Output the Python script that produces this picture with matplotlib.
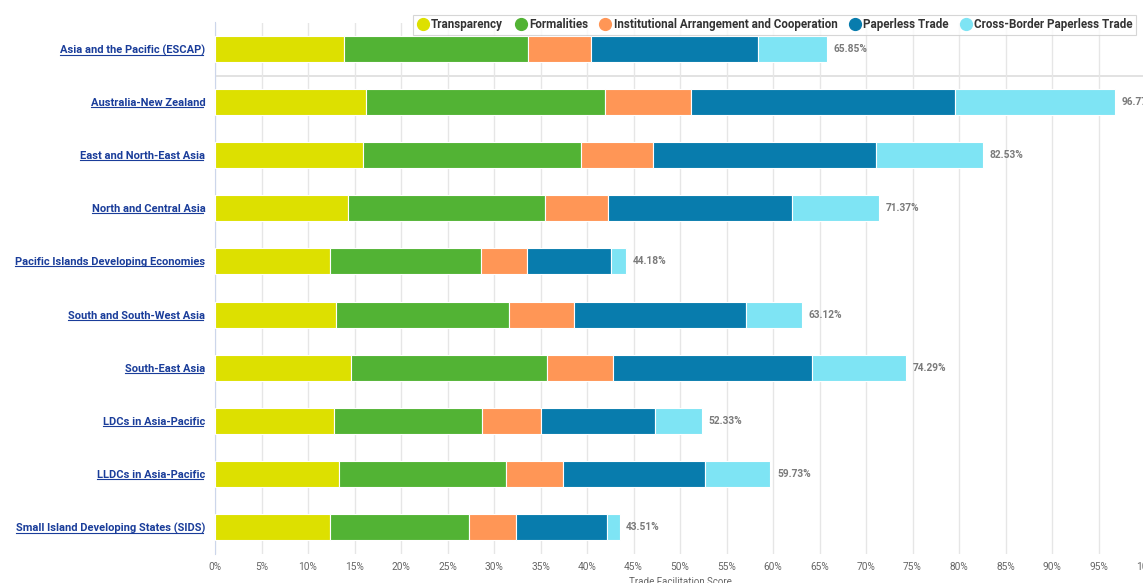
import matplotlib
matplotlib.use("Agg")
import matplotlib.pyplot as plt
from matplotlib.lines import Line2D
import numpy as np

plt.rcParams['font.family'] = ['Roboto', 'DejaVu Sans']

regions = ["Asia and the Pacific (ESCAP)", "Australia-New Zealand", "East and North-East Asia",
           "North and Central Asia", "Pacific Islands Developing Economies",
           "South and South-West Asia", "South-East Asia", "LDCs in Asia-Pacific",
           "LLDCs in Asia-Pacific", "Small Island Developing States (SIDS)"]
series = ["Transparency", "Formalities", "Institutional Arrangement and Cooperation",
          "Paperless Trade", "Cross-Border Paperless Trade"]
transparency = [13.87, 16.24, 15.91, 14.30, 12.37, 13.01, 14.62, 12.80, 13.33, 12.37]
formalities = [19.79, 25.70, 23.44, 21.18, 16.23, 18.60, 21.08, 15.91, 17.96, 14.94]
institutional = [6.77, 9.24, 7.75, 6.78, 4.95, 6.99, 7.10, 6.34, 6.13, 5.06]
paperless = [17.96, 28.39, 23.98, 19.78, 9.03, 18.50, 21.39, 12.26, 15.27, 9.78]
cross_border = [7.46, 17.20, 11.45, 9.33, 1.60, 6.02, 10.10, 5.02, 7.04, 1.36]
totals = [65.85, 96.77, 82.53, 71.37, 44.18, 63.12, 74.29, 52.33, 59.73, 43.51]
xticks = list(range(0, 101, 5))
xtick_labels = [f"{t}%" for t in xticks[:-1]] + ["10…"]

colors = ["#dde000", "#52b334", "#ff9656", "#087cad", "#7ee4f4"]

fig = plt.figure(figsize=(11.43, 5.83), dpi=100)
ax = fig.add_axes([215 / 1143, 1 - 553.5 / 583, 930 / 1143, 531 / 583])

y = np.arange(len(regions))
left = np.zeros(len(regions))
for name, vals, c in zip(series, [transparency, formalities, institutional, paperless, cross_border], colors):
    ax.barh(y, vals, left=left, height=0.49, color=c, edgecolor="white", linewidth=0.8,
            label=name, zorder=3)
    left += np.array(vals)

for yi, t in zip(y, totals):
    ax.text(t + 0.7, yi, f"{t:.2f}%", va="center", ha="left", fontsize=7.3,
            fontweight="bold", color="#7a7a7a", zorder=4)

ax.set_xlim(0, 100)
ax.set_ylim(len(regions) - 0.5, -0.5)
ax.set_xticks(xticks)
ax.set_xticklabels(xtick_labels)
ax.set_yticks(y)
ax.set_yticklabels(regions)
ax.tick_params(axis="x", length=0, colors="#666666", labelsize=7.3, pad=6)
ax.tick_params(axis="y", length=0, pad=7)
for lab in ax.get_yticklabels():
    lab.set_fontsize(8)
    lab.set_fontweight("bold")
    lab.set_color("#1a3d9a")
ax.grid(axis="x", color="#e6e6e6", linewidth=1, zorder=0)
ax.axhline(0.5, color="#dddddd", linewidth=1.2, zorder=1)
for s in ["top", "right", "bottom"]:
    ax.spines[s].set_visible(False)
ax.spines["left"].set_color("#ccd6eb")
ax.set_xlabel("Trade Facilitation Score", fontsize=7, color="#666666", labelpad=4)

handles = [Line2D([], [], marker="o", linestyle="", markersize=8.5, markerfacecolor=c,
                  markeredgecolor=c) for c in colors]
leg = fig.legend(handles, series, loc="upper right", bbox_to_anchor=(1142 / 1143, 1 - 9 / 583),
                 ncol=5, frameon=True, fancybox=False, handletextpad=0.15, columnspacing=0.95,
                 borderpad=0.3, handlelength=1.1,
                 prop={"size": 8.4, "weight": "bold"})
leg.get_frame().set_edgecolor("#cccccc")
leg.get_frame().set_linewidth(0.8)
for t in leg.get_texts():
    t.set_color("#333333")

# underline the category labels like links
fig.canvas.draw()
r = fig.canvas.get_renderer()
W, H = fig.get_size_inches() * fig.dpi
for lab in ax.get_yticklabels():
    bb = lab.get_window_extent(r)
    yy = (bb.y0 + 1) / H
    fig.add_artist(Line2D([bb.x0 / W, (bb.x1 - 2) / W], [yy, yy], color="#1a3d9a", linewidth=0.8))

fig.savefig("out.png", dpi=100)
